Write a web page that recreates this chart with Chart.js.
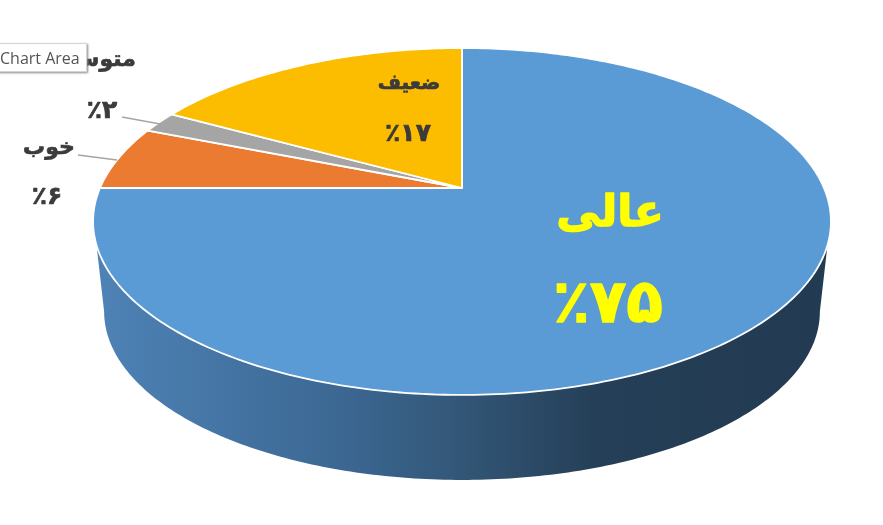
<!DOCTYPE html>
<html>
<head>
<meta charset="utf-8">
<script src="https://cdn.jsdelivr.net/npm/chart.js@4"></script>
<style>
    body { margin: 0; background: #fff; overflow: hidden; }
    #wrap { position: relative; width: 883px; height: 525px; }
    #tip {
        position: absolute; left: -3px; top: 43px; width: 90px; height: 29px; box-sizing: border-box;
        background: #fff; border: 1px solid #d4d4d4; box-shadow: 1px 1px 2px #8a8a8a;
        font: 16px/28px "Open Sans", sans-serif; color: #555; padding-left: 2px; white-space: nowrap;
    }
</style>
</head>
<body>
<div id="wrap">
    <canvas id="myChart" width="883" height="525"></canvas>
    <div id="tip">Chart Area</div>
</div>
<script>
const categories = ["عالی", "خوب", "متوسط", "ضعیف"];
const values = [75, 6, 2, 17];
const valueLabels = ["٪۷۵", "٪۶", "٪۲", "٪۱۷"];
const colors = ["#5B9BD5", "#EA7B30", "#A5A5A5", "#FCBD00"];

// where the labels sit: name x/y, value x/y, font sizes, colour
const labelStyles = [
    { nx: 610, ny: 215, vx: 608, vy: 306, ns: 44, vs: 60, color: "#FFFF00", bold: 1.4 },
    { nx: 49, ny: 148, vx: 47, vy: 197, ns: 22, vs: 25, color: "#3B3B3B", bold: 0.7 },
    { nx: 95, ny: 60, vx: 102, vy: 111, ns: 22, vs: 25, color: "#3B3B3B", bold: 0.7 },
    { nx: 409, ny: 84, vx: 408, vy: 134, ns: 20, vs: 25, color: "#3B3B3B", bold: 0.7 }
];
const leaderLines = [
    [78, 155, 117, 160],
    [122, 117, 160, 124]
];

// perspective projection of the unit circle, gives the tilted pie look
const persp = { cx: 462, cy: 188, rx: 362, ry: 167, a: -0.193 };
const wall = { scale: 0.97, midY: 221.5, shiftY: 90.2 };

function topPoint(angle) {
    const d = 1 + persp.a * Math.sin(angle);
    return [persp.cx + persp.rx * Math.cos(angle) / d, persp.cy + persp.ry * Math.sin(angle) / d];
}

function bottomPoint(angle) {
    const p = topPoint(angle);
    return [persp.cx + wall.scale * (p[0] - persp.cx), wall.midY + wall.shiftY + wall.scale * (p[1] - wall.midY)];
}

function drawWall(ctx) {
    const grad = ctx.createLinearGradient(95, 0, 830, 0);
    grad.addColorStop(0, "#4E83B6");
    grad.addColorStop(0.35, "#3B6691");
    grad.addColorStop(0.5, "#325676");
    grad.addColorStop(0.68, "#253F58");
    grad.addColorStop(1, "#223B52");
    const start = 18.7 * Math.PI / 180;
    const end = 161.3 * Math.PI / 180;
    const widest = 11.1 * Math.PI / 180;
    ctx.beginPath();
    for (let i = 0; i <= 200; i++) {
        const p = topPoint(start + (end - start) * i / 200);
        ctx.lineTo(p[0], p[1]);
    }
    for (let i = 0; i <= 200; i++) {
        const t = Math.PI - widest - (Math.PI - 2 * widest) * i / 200;
        const p = bottomPoint(t);
        ctx.lineTo(p[0], p[1]);
    }
    ctx.closePath();
    ctx.fillStyle = grad;
    ctx.fill();
}

function drawSlice(ctx, arc, color) {
    ctx.beginPath();
    ctx.moveTo(persp.cx, persp.cy);
    const steps = Math.ceil((arc.endAngle - arc.startAngle) * 60);
    for (let i = 0; i <= steps; i++) {
        const p = topPoint(arc.startAngle + (arc.endAngle - arc.startAngle) * i / steps);
        ctx.lineTo(p[0], p[1]);
    }
    ctx.closePath();
    ctx.fillStyle = color;
    ctx.fill();
    ctx.strokeStyle = "#fff";
    ctx.lineWidth = 1.8;
    ctx.lineJoin = "round";
    ctx.stroke();
}

// DejaVu bold is a bit thin next to the original font, so thicken it with a stroke
function heavyText(ctx, text, x, y, bold) {
    ctx.lineWidth = bold;
    ctx.strokeText(text, x, y);
    ctx.fillText(text, x, y);
}

const tiltedPie = {
    id: "tiltedPie",
    beforeDatasetDraw(chart, args) {
        const ctx = chart.ctx;
        const arcs = chart.getDatasetMeta(args.index).data;
        ctx.save();
        drawWall(ctx);
        arcs.forEach(function (arc, i) {
            drawSlice(ctx, arc, colors[i]);
        });
        ctx.restore();
        return false; // the arcs are already painted in perspective
    },
    afterDatasetsDraw(chart) {
        const ctx = chart.ctx;
        ctx.save();
        ctx.strokeStyle = "#A5A5A5";
        ctx.lineWidth = 1.5;
        leaderLines.forEach(function (l) {
            ctx.beginPath();
            ctx.moveTo(l[0], l[1]);
            ctx.lineTo(l[2], l[3]);
            ctx.stroke();
        });
        ctx.textAlign = "center";
        ctx.textBaseline = "middle";
        ctx.lineJoin = "round";
        categories.forEach(function (name, i) {
            const s = labelStyles[i];
            ctx.fillStyle = s.color;
            ctx.strokeStyle = s.color;
            ctx.direction = "rtl";
            ctx.font = "bold " + s.ns + "px 'DejaVu Sans'";
            heavyText(ctx, name, s.nx, s.ny, s.bold);
            ctx.direction = "ltr";
            ctx.font = "bold " + s.vs + "px 'DejaVu Sans'";
            heavyText(ctx, valueLabels[i], s.vx, s.vy, s.bold);
        });
        ctx.restore();
    }
};

const ctx = document.getElementById("myChart").getContext("2d");
const myChart = new Chart(ctx, {
    type: "pie",
    data: {
        labels: categories,
        datasets: [{ data: values, backgroundColor: colors, borderColor: "#fff" }]
    },
    options: {
        responsive: false,
        animation: false,
        plugins: { legend: { display: false }, tooltip: { enabled: false } }
    },
    plugins: [tiltedPie]
});
</script>
</body>
</html>
